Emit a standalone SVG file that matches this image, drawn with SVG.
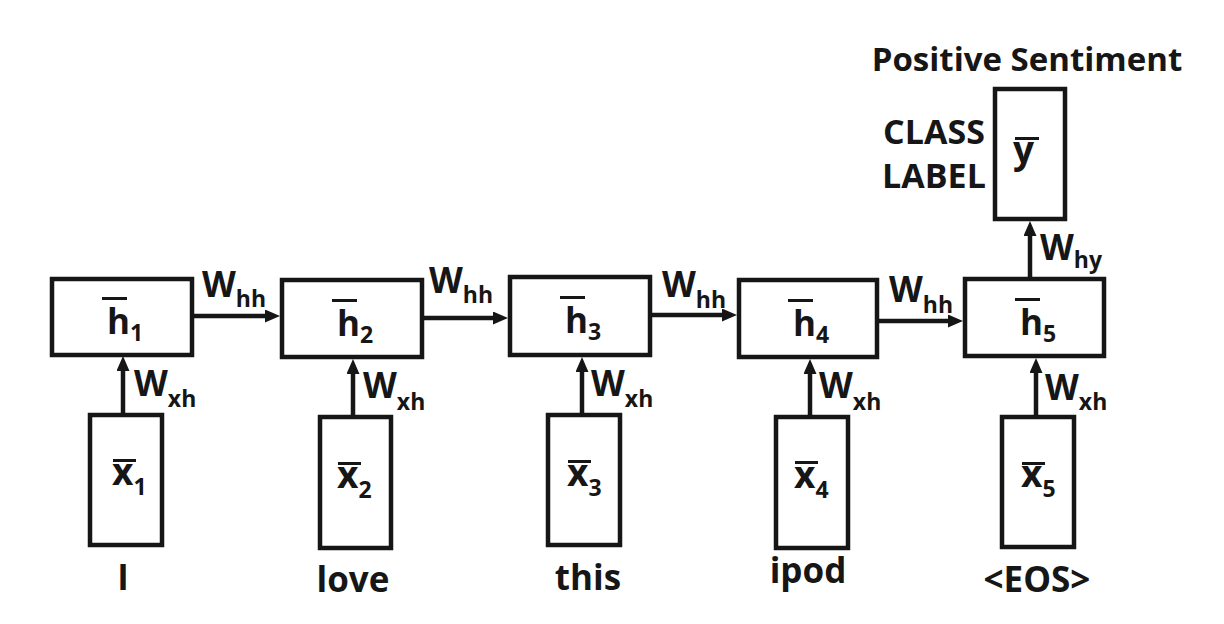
<svg xmlns="http://www.w3.org/2000/svg" width="1224" height="624" viewBox="0 0 1224 624">
  <style>
    .box { fill: #ffffff; stroke: #161616; stroke-width: 4.5; }
    .bar { fill: #161616; }
    .t { font-family: "Open Sans", "Noto Sans", "DejaVu Sans", sans-serif; font-weight: 700; fill: #161616; }
    .lbl { font-size: 35px; }
    .nm { font-size: 35px; }
    .xs { font-size: 37px; }
    .mid { text-anchor: middle; }
    .w { font-size: 35px; }
    .sub { font-size: 23px; }
    .subn { font-size: 23px; }
    .conn { stroke: #161616; stroke-width: 4.5; fill: none; marker-end: url(#arrow); }
  </style>
  <defs>
    <marker id="arrow" markerUnits="userSpaceOnUse" viewBox="0 0 15 13" markerWidth="15" markerHeight="13" refX="1" refY="6.5" orient="auto">
      <path d="M0,0 L15,6.5 L0,13 Z" fill="#161616"/>
    </marker>
  </defs>
  <rect width="1224" height="624" fill="#ffffff"/>

  <g id="connectors">
    <line class="conn" x1="194" y1="316" x2="266" y2="316"/>
    <line class="conn" x1="423" y1="318" x2="494" y2="318"/>
    <line class="conn" x1="652" y1="315" x2="723" y2="315"/>
    <line class="conn" x1="879" y1="321" x2="949" y2="321"/>
    <line class="conn" x1="123" y1="415" x2="123" y2="370"/>
    <line class="conn" x1="353" y1="417" x2="353" y2="373"/>
    <line class="conn" x1="582" y1="415" x2="582" y2="371"/>
    <line class="conn" x1="810" y1="417" x2="810" y2="373"/>
    <line class="conn" x1="1036" y1="417" x2="1036" y2="372"/>
    <line class="conn" x1="1030" y1="279" x2="1030" y2="235"/>
  </g>

  <g id="connector-labels">
    <text class="t w" x="202" y="297">W<tspan class="sub" dy="10">hh</tspan></text>
    <text class="t w" x="429" y="293">W<tspan class="sub" dy="10">hh</tspan></text>
    <text class="t w" x="662" y="297">W<tspan class="sub" dy="11">hh</tspan></text>
    <text class="t w" x="889" y="302">W<tspan class="sub" dy="11">hh</tspan></text>
    <text class="t w" x="134" y="396">W<tspan class="sub" dy="11">xh</tspan></text>
    <text class="t w" x="363" y="398">W<tspan class="sub" dy="12">xh</tspan></text>
    <text class="t w" x="591" y="396">W<tspan class="sub" dy="11">xh</tspan></text>
    <text class="t w" x="819" y="398">W<tspan class="sub" dy="12">xh</tspan></text>
    <text class="t w" x="1045" y="400">W<tspan class="sub" dy="10">xh</tspan></text>
    <text class="t w" x="1040" y="260">W<tspan class="sub" dy="8">hy</tspan></text>
  </g>

  <g id="h1">
    <rect class="box" x="52" y="279" width="140" height="76"/>
    <rect class="bar" x="102" y="297" width="25" height="3"/>
    <text class="t nm" x="107" y="334">h<tspan class="subn" dy="7">1</tspan></text>
  </g>
  <g id="h2">
    <rect class="box" x="282" y="280" width="140" height="77"/>
    <rect class="bar" x="332" y="299" width="25" height="3"/>
    <text class="t nm" x="337" y="336">h<tspan class="subn" dy="7">2</tspan></text>
  </g>
  <g id="h3">
    <rect class="box" x="510" y="277" width="140" height="78"/>
    <rect class="bar" x="560" y="296" width="25" height="3"/>
    <text class="t nm" x="565" y="333">h<tspan class="subn" dy="7">3</tspan></text>
  </g>
  <g id="h4">
    <rect class="box" x="739" y="280" width="138" height="77"/>
    <rect class="bar" x="788" y="299" width="25" height="3"/>
    <text class="t nm" x="793" y="336">h<tspan class="subn" dy="7">4</tspan></text>
  </g>
  <g id="h5">
    <rect class="box" x="965" y="279" width="139" height="77"/>
    <rect class="bar" x="1015" y="298" width="25" height="3"/>
    <text class="t nm" x="1020" y="335">h<tspan class="subn" dy="7">5</tspan></text>
  </g>

  <g id="x1">
    <rect class="box" x="90" y="415" width="72" height="130"/>
    <rect class="bar" x="113" y="459" width="23" height="3"/>
    <text class="t xs" x="112" y="485">x<tspan class="subn" dy="10">1</tspan></text>
  </g>
  <g id="x2">
    <rect class="box" x="320" y="417" width="71" height="131"/>
    <rect class="bar" x="338" y="462" width="23" height="3"/>
    <text class="t xs" x="337" y="488">x<tspan class="subn" dy="10">2</tspan></text>
  </g>
  <g id="x3">
    <rect class="box" x="548" y="415" width="72" height="130"/>
    <rect class="bar" x="568" y="460" width="23" height="3"/>
    <text class="t xs" x="567" y="486">x<tspan class="subn" dy="10">3</tspan></text>
  </g>
  <g id="x4">
    <rect class="box" x="776" y="417" width="72" height="131"/>
    <rect class="bar" x="795" y="461" width="23" height="3"/>
    <text class="t xs" x="794" y="488">x<tspan class="subn" dy="10">4</tspan></text>
  </g>
  <g id="x5">
    <rect class="box" x="1002" y="417" width="72" height="130"/>
    <rect class="bar" x="1022" y="462" width="23" height="3"/>
    <text class="t xs" x="1021" y="487">x<tspan class="subn" dy="10">5</tspan></text>
  </g>

  <g id="y">
    <rect class="box" x="995" y="89" width="70" height="130"/>
    <rect class="bar" x="1015" y="137" width="24" height="3"/>
    <text class="t xs" x="1013" y="163">y</text>
  </g>

  <g id="labels">
    <text class="t mid" x="1027" y="71" style="font-size:33px">Positive Sentiment</text>
    <text class="t mid" x="934" y="144" style="font-size:34px">CLASS</text>
    <text class="t mid" x="934" y="188" style="font-size:34px">LABEL</text>
    <text class="t lbl mid" x="123" y="590">I</text>
    <text class="t lbl mid" x="353" y="592">love</text>
    <text class="t lbl mid" x="588" y="590">this</text>
    <text class="t lbl mid" x="808" y="583">ipod</text>
    <text class="t lbl mid" x="1037" y="592">&lt;EOS&gt;</text>
  </g>
</svg>
